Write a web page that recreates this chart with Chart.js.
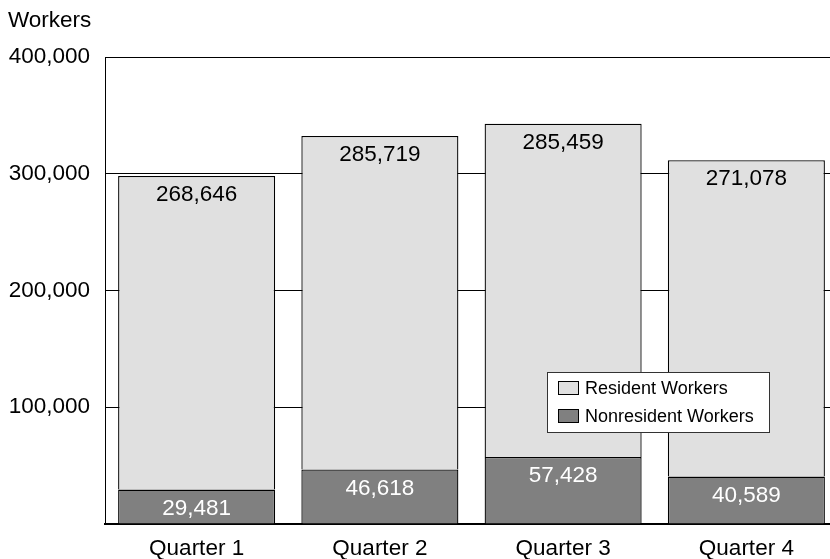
<!DOCTYPE html>
<html lang="en">
<head>
    <meta charset="UTF-8">
    <title>Resident and Nonresident Workers by Quarter</title>
    <script src="https://cdn.jsdelivr.net/npm/chart.js"></script>
    <style>
        html, body { margin: 0; padding: 0; background: #fff; overflow: hidden; }
        #wrap { width: 840px; height: 559px; }
    </style>
</head>
<body>
    <div id="wrap"><canvas id="workersChart" width="840" height="559"></canvas></div>

    <script>
        // Chart data
        const quarters = ['Quarter 1', 'Quarter 2', 'Quarter 3', 'Quarter 4'];
        const nonresidentWorkers = [29481, 46618, 57428, 40589];
        const residentWorkers = [268646, 285719, 285459, 271078];
        const yTicks = [0, 100000, 200000, 300000, 400000];

        const FONT = 'Arial, "Liberation Sans", sans-serif';
        const fmt = v => v.toLocaleString('en-US');

        // Value labels, drawn near the top of each bar segment
        const valueLabels = {
            id: 'valueLabels',
            afterDatasetsDraw(chart) {
                const ctx = chart.ctx;
                ctx.save();
                ctx.font = '22.5px ' + FONT;
                ctx.textAlign = 'center';
                ctx.textBaseline = 'middle';
                chart.data.datasets.forEach((ds, i) => {
                    chart.getDatasetMeta(i).data.forEach((bar, j) => {
                        ctx.fillStyle = ds.labelColor;
                        ctx.fillText(fmt(ds.data[j]), bar.x, bar.y + 19);
                    });
                });
                ctx.restore();
            }
        };

        // "Workers" axis title and boxed legend inside the plot
        const extras = {
            id: 'extras',
            afterDraw(chart) {
                const ctx = chart.ctx;
                ctx.save();
                ctx.fillStyle = '#000';
                ctx.font = '22.5px ' + FONT;
                ctx.textAlign = 'left';
                ctx.textBaseline = 'middle';
                ctx.fillText('Workers', 8, 21);

                // legend box
                ctx.fillStyle = '#fff';
                ctx.fillRect(547, 372, 222, 60);
                ctx.strokeStyle = '#333';
                ctx.lineWidth = 1;
                ctx.strokeRect(547.5, 372.5, 222, 60);

                const items = [chart.data.datasets[1], chart.data.datasets[0]];
                ctx.font = '18px ' + FONT;
                items.forEach((ds, k) => {
                    const y = 381 + k * 28;
                    ctx.fillStyle = ds.backgroundColor;
                    ctx.fillRect(558, y, 20, 13);
                    ctx.strokeStyle = '#000';
                    ctx.strokeRect(558.5, y + 0.5, 20, 13);
                    ctx.fillStyle = '#000';
                    ctx.fillText(ds.label, 585, y + 8);
                });
                ctx.restore();
            }
        };

        new Chart(document.getElementById('workersChart'), {
            type: 'bar',
            data: {
                labels: quarters,
                datasets: [
                    {
                        label: 'Nonresident Workers',
                        data: nonresidentWorkers,
                        backgroundColor: '#808080',
                        borderColor: '#000',
                        borderWidth: 1.3,
                        labelColor: '#fff',
                        barPercentage: 0.857,
                        categoryPercentage: 1
                    },
                    {
                        label: 'Resident Workers',
                        data: residentWorkers,
                        backgroundColor: '#e0e0e0',
                        borderColor: '#000',
                        borderWidth: 1.3,
                        labelColor: '#000',
                        barPercentage: 0.857,
                        categoryPercentage: 1
                    }
                ]
            },
            options: {
                responsive: false,
                animation: false,
                layout: { padding: { top: 57, right: 2, left: 0, bottom: 0 } },
                plugins: {
                    legend: { display: false },
                    tooltip: { enabled: false }
                },
                scales: {
                    x: {
                        stacked: true,
                        grid: { display: false },
                        border: { color: '#000', width: 2 },
                        ticks: { color: '#000', font: { size: 22.5, family: FONT }, padding: 3 },
                        afterFit: s => { s.height = 35; }
                    },
                    y: {
                        stacked: true,
                        min: yTicks[0],
                        max: yTicks[yTicks.length - 1],
                        afterBuildTicks: s => { s.ticks = yTicks.map(v => ({ value: v })); },
                        grid: { color: '#000', lineWidth: 1, drawTicks: false },
                        border: { color: '#000', width: 1 },
                        ticks: {
                            color: '#000',
                            font: { size: 22.5, family: FONT },
                            padding: 15,
                            callback: v => v === 0 ? '' : fmt(v)
                        },
                        afterFit: s => { s.width = 105; }
                    }
                }
            },
            plugins: [valueLabels, extras]
        });
    </script>
</body>
</html>
